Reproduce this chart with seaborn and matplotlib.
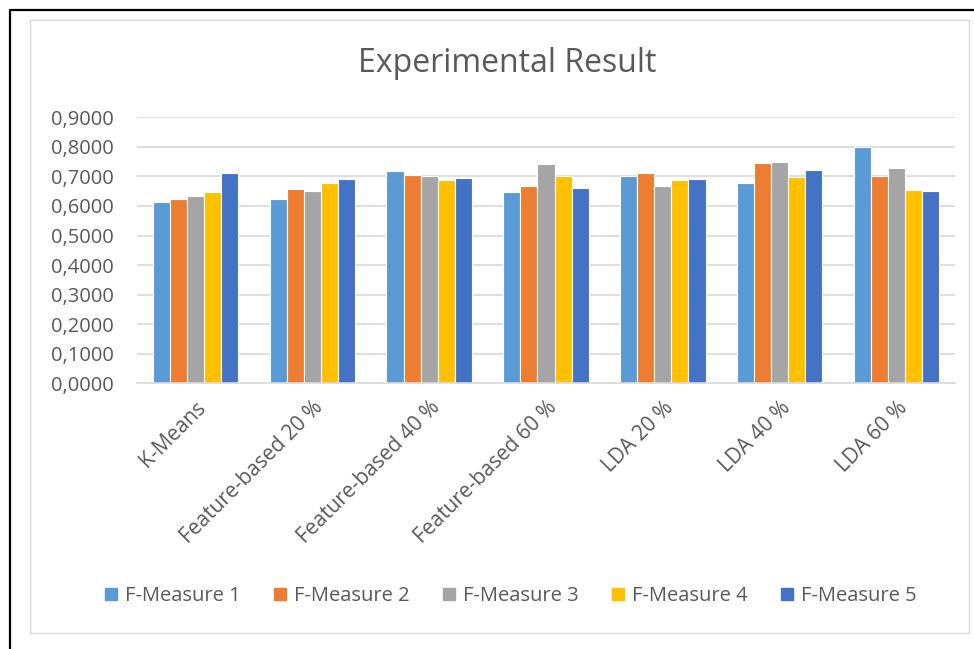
import pandas as pd
import numpy as np
import matplotlib
matplotlib.use('Agg')
import matplotlib.pyplot as plt
import seaborn as sns
from matplotlib.lines import Line2D
from matplotlib.patches import Rectangle
from matplotlib.ticker import FuncFormatter

categorias = ['K-Means', 'Feature-based 20 %', 'Feature-based 40 %', 'Feature-based 60 %',
              'LDA 20 %', 'LDA 40 %', 'LDA 60 %']
series = ['F-Measure 1', 'F-Measure 2', 'F-Measure 3', 'F-Measure 4', 'F-Measure 5']

fm1 = [0.613, 0.625, 0.718, 0.646, 0.701, 0.679, 0.800]
fm2 = [0.625, 0.656, 0.704, 0.667, 0.711, 0.746, 0.703]
fm3 = [0.634, 0.652, 0.700, 0.743, 0.666, 0.750, 0.727]
fm4 = [0.647, 0.679, 0.687, 0.700, 0.687, 0.699, 0.653]
fm5 = [0.711, 0.691, 0.696, 0.662, 0.691, 0.721, 0.650]

colores = ['#5B9BD5', '#ED7D31', '#A5A5A5', '#FFC000', '#4472C4']
gris = '#595959'

df = pd.DataFrame({
    'categoria': categorias * 5,
    'serie': np.repeat(series, len(categorias)),
    'valor': fm1 + fm2 + fm3 + fm4 + fm5,
})

sns.set_style('white')
plt.rcParams['font.family'] = ['Open Sans', 'DejaVu Sans']

W, H = 974, 649
fig = plt.figure(figsize=(W / 100, H / 100), dpi=100)
ax = fig.add_axes([137 / W, 1 - 383.3 / H, (955 - 137) / W, 266 / H])

sns.barplot(data=df, x='categoria', y='valor', hue='serie', order=categorias,
            hue_order=series, palette=colores, width=0.73, ax=ax,
            edgecolor='white', linewidth=0.8, saturation=1, errorbar=None)

ax.set_xlim(-0.5, len(categorias) - 0.5)
ax.set_ylim(0, 0.9)
ax.set_yticks(np.arange(0, 0.91, 0.1))
ax.yaxis.set_major_formatter(FuncFormatter(lambda v, p: f'{v:.4f}'.replace('.', ',')))
ax.grid(axis='y', color='#D9D9D9', linewidth=1.2)
ax.set_axisbelow(True)
for s in ['top', 'right', 'left']:
    ax.spines[s].set_visible(False)
ax.spines['bottom'].set_color('#D9D9D9')
ax.spines['bottom'].set_linewidth(1.2)
ax.set_xlabel('')
ax.set_ylabel('')
ax.tick_params(axis='y', colors=gris, labelsize=14.5, length=0, pad=17)
ax.tick_params(axis='x', colors=gris, labelsize=15, length=0, pad=10)
plt.setp(ax.get_xticklabels(), rotation=45, ha='right', rotation_mode='anchor')

ax.legend_.remove()
handles = [Line2D([0], [0], marker='s', linestyle='none', markerfacecolor=c,
                  markeredgecolor=c, markersize=8.5) for c in colores]
fig.legend(handles, series, loc='center', bbox_to_anchor=(511 / W, 1 - 596 / H), ncol=5,
           frameon=False, fontsize=14.5, labelcolor=gris, handlelength=0.6,
           handletextpad=0.4, columnspacing=1.65)

fig.text(507 / W, 1 - 63 / H, 'Experimental Result', ha='center', va='center',
         fontsize=23, color=gris)

# marco del grafico y borde exterior
fig.patches.append(Rectangle((30 / W, 1 - 633 / H), (969 - 30) / W, (633 - 20) / H,
                             transform=fig.transFigure, fill=False,
                             edgecolor='#D9D9D9', linewidth=1))
fig.lines.append(Line2D([10 / W, 10 / W], [0, 1 - 10 / H], transform=fig.transFigure,
                        color='black', linewidth=1.6))
fig.lines.append(Line2D([10 / W, 1], [1 - 10 / H, 1 - 10 / H], transform=fig.transFigure,
                        color='black', linewidth=1.6))

fig.savefig('out.png', dpi=100)
